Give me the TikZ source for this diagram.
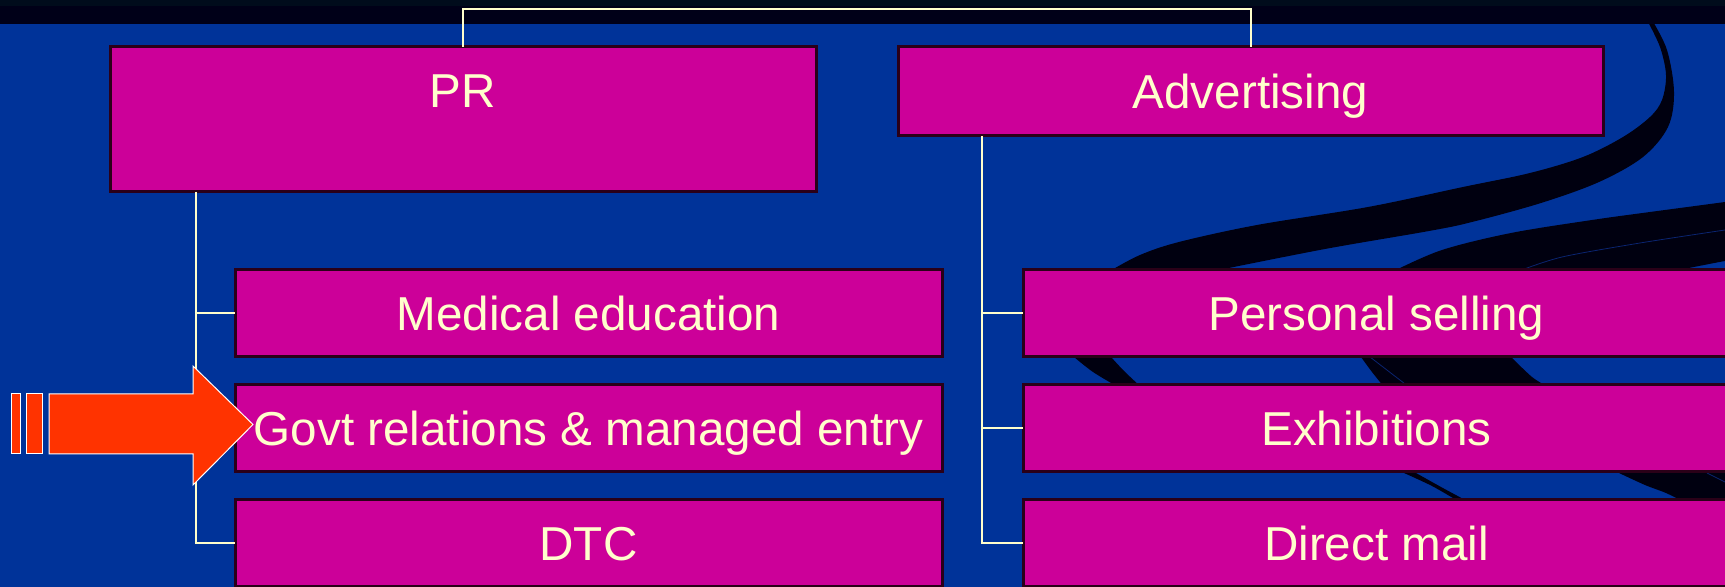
\documentclass[tikz,border=0pt]{standalone}
\usepackage{fontspec}
\setmainfont{Liberation Sans}
\usetikzlibrary{calc}

\definecolor{slideblue}{HTML}{003399}
\definecolor{bandnavy}{HTML}{000018}
\definecolor{bandtop}{HTML}{000C1C}
\definecolor{ribbon}{HTML}{000010}
\definecolor{seam}{HTML}{0A2470}
\definecolor{boxfill}{HTML}{CC0099}
\definecolor{boxedge}{HTML}{2A0018}
\definecolor{cream}{HTML}{FFFFCC}
\definecolor{arrowred}{HTML}{FF3300}

\begin{document}
\begin{tikzpicture}[x=0.5pt, y=-0.5pt,
  box/.style={draw=boxedge, line width=1.5pt, fill=boxfill, text=cream,
    inner sep=0pt, outer sep=0pt, minimum width=353.5pt, minimum height=43.5pt,
    text height=17pt, text depth=0pt, font=\fontsize{23.8pt}{28pt}\selectfont},
  link/.style={draw=cream, line width=1pt},
  swoosh/.style={fill=ribbon},
  seamline/.style={draw=seam, line width=0.4pt},
  pointer/.style={fill=arrowred, draw=white, line width=0.5pt, line join=miter}]

\useasboundingbox (0,0) rectangle (1725,587);

% slide background
\fill[slideblue] (0,0) rectangle (1725,587);

% decorative ribbons behind the boxes
\fill[swoosh]
  plot[smooth, tension=0.55] coordinates {(1647,20) (1660,47) (1666,75) (1662,100) (1650,117)
    (1623,137) (1583,157) (1530,173) (1463,187) (1368,207) (1257,225) (1179,242)
    (1140,255) (1110,271)}
  -- plot[smooth] coordinates {(1074,357) (1093,372) (1118,387)}
  -- plot[smooth] coordinates {(1404,473) (1432,486) (1458,501)}
  -- (1480,587) -- (1492,587)
  -- plot[smooth] coordinates {(1467,501) (1441,487) (1416,473)}
  -- plot[smooth] coordinates {(1141,387) (1124,371) (1111,357)}
  -- plot[smooth, tension=0.55] coordinates {(1214,271) (1325,249) (1429,231) (1472,222)
    (1541,203) (1599,182) (1643,157) (1668,127) (1674,92) (1667,50) (1652,20)}
  -- cycle;

\fill[swoosh]
  plot[smooth, tension=0.55] coordinates {(1760,197) (1725,202) (1650,212) (1592,220)
    (1511,233) (1442,250) (1394,271)}
  -- plot[smooth] coordinates {(1361,357) (1372,372) (1384,387)}
  -- plot[smooth] coordinates {(1619,473) (1645,485) (1666,493) (1682,501)}
  -- (1760,560) -- (1760,460)
  -- plot[smooth] coordinates {(1548,387) (1532,377) (1511,357)}
  -- plot[smooth] coordinates {(1674,271) (1725,261) (1760,256)}
  -- cycle;

\draw[seamline] plot[smooth] coordinates {(1725,230) (1640,243) (1562,257) (1519,271)};
\draw[seamline] (1370,357) -- (1409,387);
\draw[seamline] (1707,473) -- (1725,482);

% title band
\fill[bandnavy] (0,0) rectangle (1725,24);
\fill[bandtop] (0,0) rectangle (1725,6);

% boxes
\node[box, minimum width=353pt, minimum height=72.5pt, text depth=29pt] (pr) at (463,119.5) {PR};
\node[box, minimum width=352.5pt, minimum height=44.5pt] (adv) at (1250.5,91.5) {Advertising};

\node[box] (med)  at (588.5,313.5) {Medical education};
\node[box] (govt) at (588.5,428.5) {Govt relations \& managed entry};
\node[box] (dtc)  at (588.5,543.5) {DTC};

\node[box] (pers) at (1376.5,313.5) {Personal selling};
\node[box] (exh)  at (1376.5,428.5) {Exhibitions};
\node[box] (mail) at (1376.5,543.5) {Direct mail};

% connectors
\draw[link] (pr.north) -- ++(0,-38) -| (adv.north);

\coordinate (prtrunk) at ($(pr.south west)+(86,0)$);
\draw[link] (prtrunk) |- (dtc.west);
\draw[link] (med.west -| prtrunk) -- (med.west);
\draw[link] (govt.west -| prtrunk) -- (govt.west);

\coordinate (advtrunk) at ($(adv.south west)+(84,0)$);
\draw[link] (advtrunk) |- (mail.west);
\draw[link] (pers.west -| advtrunk) -- (pers.west);
\draw[link] (exh.west -| advtrunk) -- (exh.west);

% highlight arrow pointing at the current topic
\draw[pointer] (11,394) rectangle (20,454);
\draw[pointer] (26,394) rectangle (42,454);
\draw[pointer] (49,394) -- (193,394) -- (193,366) -- ($(govt.west)+(18,-4)$)
  -- (193,485) -- (193,454) -- (49,454) -- cycle;

\end{tikzpicture}
\end{document}
